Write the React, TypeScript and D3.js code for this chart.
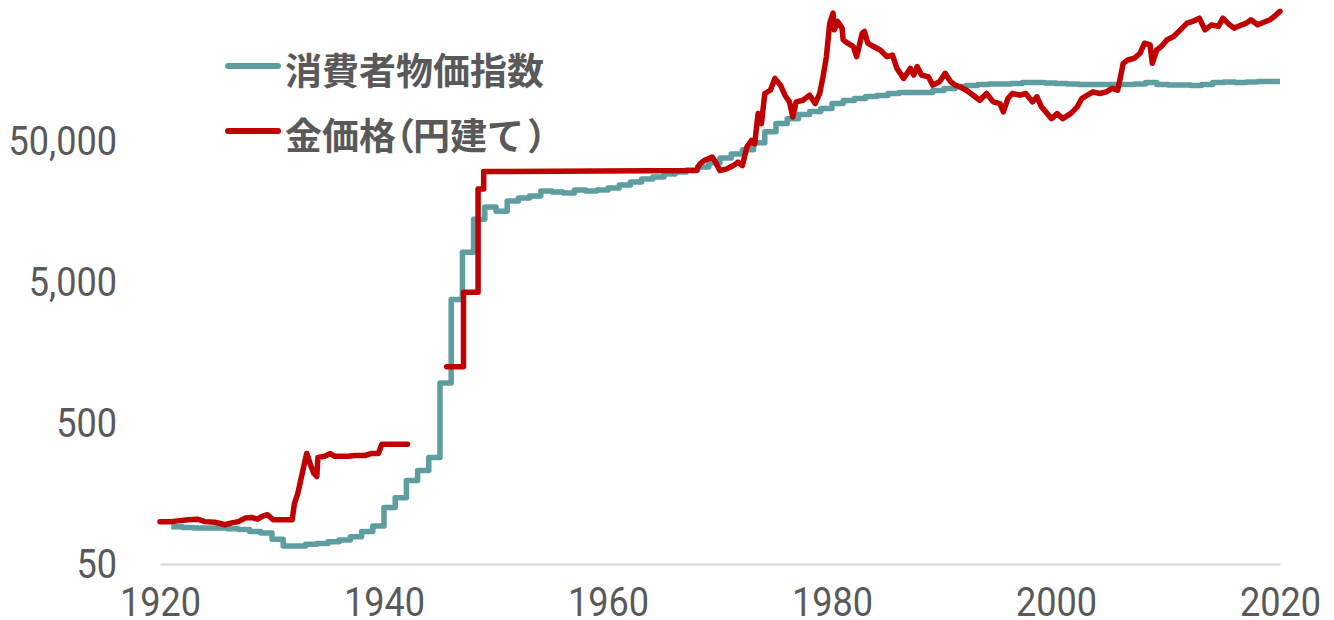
import React, { useEffect, useRef } from 'react';
import * as d3 from 'd3';

// 消費者物価指数 (annual, step after)
const cpiYears = d3.range(1921, 2021);
const cpiValues = [
  92, 91, 90, 90, 90, 89, 88, 85, 83, 75,
  67, 67, 69, 70, 72, 74, 78, 85, 93, 126,
  148, 196, 231, 286, 966, 3780, 8190, 14090, 17170, 16070,
  18950, 19900, 20560, 22330, 21980, 21620, 22700, 22330, 22700, 23460,
  24660, 25900, 27200, 28100, 29500, 30500, 31500, 33100, 35400, 38400,
  41000, 43800, 49200, 58900, 67300, 72900, 78000, 81900, 86000, 93300,
  98100, 101400, 104700, 106600, 110100, 112000, 112000, 112000, 115600, 119600,
  123600, 125600, 127700, 128500, 128500, 129800, 131900, 131900, 130800, 129800,
  128500, 127700, 127700, 127700, 127700, 127700, 128500, 131900, 127700, 126600,
  126600, 125600, 127700, 131900, 132900, 131900, 132900, 134100, 134100, 134100
];

// 金価格(円建て)
const goldYears = [
  1920.0, 1921.0, 1922.5, 1923.4, 1924.0, 1924.9, 1925.8, 1926.4, 1927.0, 1927.6,
  1928.2, 1928.7, 1929.1, 1929.6, 1930.1, 1931.8, 1932.0, 1932.3, 1932.7, 1933.1,
  1933.4, 1933.7, 1934.0, 1934.1, 1934.7, 1935.2, 1935.6, 1936.8, 1937.4, 1938.3,
  1938.9, 1939.5, 1939.8, 1942.1, 1943.0,
  1945.6, 1947.1, 1947.1, 1948.4, 1948.4, 1948.9, 1948.9, 1967.9,
  1968.2, 1968.6, 1969.3, 1969.6, 1970.0, 1970.6, 1971.2, 1971.6, 1972.0, 1972.4,
  1972.8, 1973.1, 1973.4, 1973.7, 1974.0, 1974.5, 1974.9, 1975.4, 1975.8, 1976.2,
  1976.5, 1976.8, 1977.4, 1978.0, 1978.5, 1978.9, 1979.2, 1979.5, 1979.8, 1980.1,
  1980.2, 1980.5, 1980.9, 1981.0, 1981.4, 1981.9, 1982.2, 1982.7, 1982.9, 1983.2,
  1983.7, 1984.3, 1984.9, 1985.4, 1985.8, 1986.4, 1987.0, 1987.3, 1987.6, 1988.0,
  1988.6, 1989.0, 1989.6, 1990.1, 1990.6, 1991.0, 1991.4, 1992.0, 1992.6, 1993.2,
  1993.8, 1994.4, 1995.0, 1995.3, 1995.7, 1996.1, 1996.8, 1997.3, 1997.9, 1998.3,
  1998.7, 1999.1, 1999.6, 2000.1, 2000.6, 2001.3, 2001.9, 2002.3, 2002.8, 2003.3,
  2003.9, 2004.5, 2005.0, 2005.5, 2005.7, 2006.0, 2006.4, 2007.0, 2007.5, 2007.9,
  2008.4, 2008.6, 2009.0, 2009.4, 2009.9, 2010.5, 2011.1, 2011.7, 2012.2, 2012.8,
  2013.3, 2013.9, 2014.5, 2014.9, 2015.5, 2015.9, 2016.6, 2017.0, 2017.4, 2018.0,
  2019.1, 2019.5, 2020.0
];
const goldValues = [
  100, 100, 103, 104, 100, 99, 95, 98, 100, 106,
  107, 104, 109, 112, 103, 103, 134, 158, 220, 305,
  259, 223, 209, 286, 291, 305, 291, 291, 295, 295,
  305, 305, 354, 354, null,
  1262, 1262, 4265, 4265, 23080, 23080, 30690, 31190,
  34830, 36750, 38880, 35830, 31190, 32080, 33870, 35830, 33870, 45810,
  51060, 48400, 79250, 67260, 110100, 116200, 140900, 126200, 107100, 96040,
  75050, 96040, 98600, 107100, 93400, 110100, 144900, 201300, 348300, 410300,
  311800, 358000, 320700, 264600, 250600, 237400, 201300, 295300, 304000, 250600,
  237400, 224400, 201300, 206600, 166100, 140900, 166100, 148800, 170800, 148800,
  144900, 126200, 133500, 153000, 133500, 126200, 122900, 116200, 107100, 98600,
  110100, 96040, 93400, 81500, 101400, 110100, 107100, 110100, 96040, 104300,
  88500, 81500, 72960, 79250, 72960, 79250, 88500, 101400, 107100, 113200,
  110100, 113200, 119600, 116200, 137000, 180300, 190400, 195900, 212500, 250600,
  243800, 180300, 224400, 237400, 264600, 279700, 311800, 348300, 358000, 378000,
  311800, 338600, 329900, 378000, 338600, 320700, 338600, 348300, 367600, 338600,
  367600, 388800, 421900
];

const yTicks = [50, 500, 5000, 50000];
const xTicks = [1920, 1940, 1960, 1980, 2000, 2020];
// legend labels split into parts so the brackets can be packed tighter
const legendLabels = [['消費者物価指数'], ['金価格', '（', '円建て', '）']];
const legendDx = [[0], [0, -18, -2, 3]];
const colors = ['#5f9ea0', '#c00000'];

const SX = 0.88;

export default function App() {
  const ref = useRef(null);

  useEffect(() => {
    const svg = d3.select(ref.current);
    svg.selectAll('*').remove();

    const x = d3.scaleLinear().domain([1920, 2020]).range([160, 1280]);
    const y = d3.scaleLog().domain([50, 500000]).range([564, 1]);

    // x axis (baseline + year labels)
    const xAxis = svg
      .append('g')
      .attr('transform', `translate(0,${y(50)})`)
      .call(d3.axisBottom(x).tickValues(xTicks).tickSize(0).tickPadding(23).tickFormat(d3.format('d')));
    xAxis.select('.domain').attr('stroke', '#d9d9d9').attr('stroke-width', 2);
    xAxis
      .selectAll('text')
      .attr('font-family', 'Roboto, sans-serif')
      .attr('font-size', 41)
      .attr('fill', '#595959')
      .attr('transform', `scale(${SX},1)`);

    // y axis labels only
    const yAxis = svg
      .append('g')
      .attr('transform', `translate(${x(1920)},0)`)
      .call(d3.axisLeft(y).tickValues(yTicks).tickSize(0).tickFormat(d3.format(',')));
    yAxis.select('.domain').remove();
    yAxis
      .selectAll('text')
      .attr('x', -43 / SX)
      .attr('font-family', 'Roboto, sans-serif')
      .attr('font-size', 41)
      .attr('fill', '#595959')
      .attr('transform', `scale(${SX},1)`);

    const cpiData = cpiYears.map((yr, i) => [yr, cpiValues[i]]);
    const goldData = goldYears.map((yr, i) => [yr, goldValues[i]]);

    const cpiLine = d3
      .line()
      .curve(d3.curveStepAfter)
      .x(d => x(d[0]))
      .y(d => y(d[1]));

    const goldLine = d3
      .line()
      .defined(d => d[1] != null)
      .x(d => x(d[0]))
      .y(d => y(d[1]));

    svg
      .append('path')
      .attr('d', cpiLine(cpiData))
      .attr('fill', 'none')
      .attr('stroke', colors[0])
      .attr('stroke-width', 5.5)
      .attr('stroke-linejoin', 'round');

    svg
      .append('path')
      .attr('d', goldLine(goldData))
      .attr('fill', 'none')
      .attr('stroke', colors[1])
      .attr('stroke-width', 5.5)
      .attr('stroke-linejoin', 'round')
      .attr('stroke-linecap', 'round');

    // legend
    const legend = svg
      .selectAll('.legend')
      .data(legendLabels)
      .enter()
      .append('g')
      .attr('class', 'legend')
      .attr('transform', (d, i) => `translate(0,${66 + i * 65})`);

    legend
      .append('line')
      .attr('x1', 228)
      .attr('x2', 278)
      .attr('stroke', (d, i) => colors[i])
      .attr('stroke-width', 6)
      .attr('stroke-linecap', 'round');

    legend
      .append('text')
      .attr('x', 285)
      .attr('y', 3)
      .attr('dominant-baseline', 'central')
      .attr('font-family', '"Noto Sans CJK JP", sans-serif')
      .attr('font-weight', 'bold')
      .attr('font-size', 37)
      .attr('fill', '#595959')
      .selectAll('tspan')
      .data((d, i) => d.map((part, j) => ({ part, dx: legendDx[i][j] })))
      .enter()
      .append('tspan')
      .attr('dx', d => d.dx)
      .text(d => d.part);
  }, []);

  return (
    <svg
      ref={ref}
      width={1334}
      height={620}
      style={{ position: 'absolute', left: 0, top: 0, background: '#fff' }}
    />
  );
}
